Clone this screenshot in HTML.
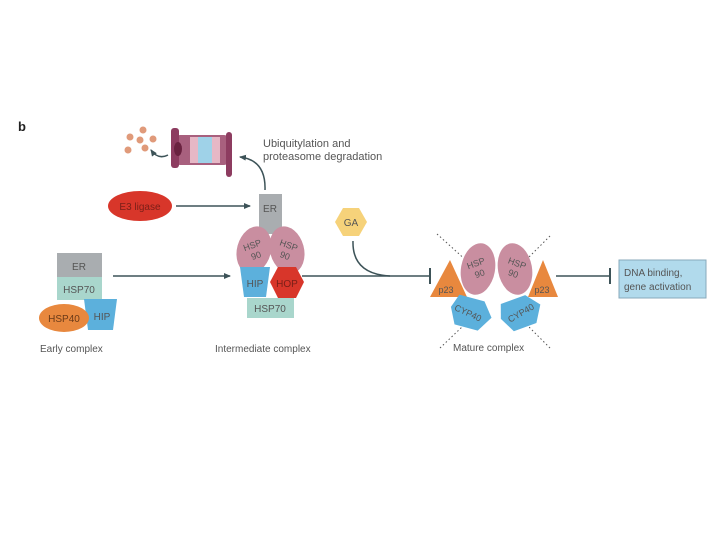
<!DOCTYPE html>
<html><head><meta charset="utf-8"><style>
html,body{margin:0;padding:0;background:#fff;}
svg{display:block;}
text{font-family:"Liberation Sans",sans-serif;fill:#555;}
</style></head><body>
<svg width="720" height="540" viewBox="0 0 720 540" xmlns="http://www.w3.org/2000/svg">
<defs>
<marker id="ah" markerWidth="8" markerHeight="8" refX="6" refY="4" orient="auto" markerUnits="userSpaceOnUse"><path d="M0,1 L7,4 L0,7 Z" fill="#3d5358"/></marker>
</defs>
<text x="18" y="131" font-size="13" font-weight="bold" style="fill:#222">b</text>

<!-- proteasome -->
<g>
<circle cx="143" cy="130" r="3.5" fill="#e09a7a"/><circle cx="130" cy="137" r="3.5" fill="#e09a7a"/>
<circle cx="140" cy="140" r="3.5" fill="#e09a7a"/><circle cx="153" cy="139" r="3.5" fill="#e09a7a"/>
<circle cx="128" cy="150" r="3.5" fill="#e09a7a"/><circle cx="145" cy="148" r="3.5" fill="#e09a7a"/>
<path d="M168,155 Q158,160 151,150" fill="none" stroke="#3d5358" stroke-width="1.5" marker-end="url(#ah)"/>
<rect x="176" y="135" width="52" height="30" fill="#a8607e" rx="4"/>
<rect x="190" y="137" width="8" height="26" fill="#e6b8c6"/>
<rect x="198" y="137" width="14" height="26" fill="#9fd2e8"/>
<rect x="212" y="137" width="8" height="26" fill="#e6b8c6"/>
<rect x="171" y="128" width="8" height="40" fill="#8d3c60" rx="3"/>
<ellipse cx="178" cy="149" rx="4" ry="7" fill="#6a2240"/>
<rect x="226" y="132" width="6" height="45" fill="#8d3c60" rx="3"/>
</g>
<path d="M265,190 Q266,160 240,157" fill="none" stroke="#3d5358" stroke-width="1.5" marker-end="url(#ah)"/>
<text x="263" y="147" font-size="11">Ubiquitylation and</text>
<text x="263" y="160" font-size="11">proteasome degradation</text>

<!-- E3 ligase -->
<ellipse cx="140" cy="206" rx="32" ry="15" fill="#d8362a"/>
<text x="140" y="210" font-size="10" text-anchor="middle" style="fill:#7a1f18">E3 ligase</text>
<line x1="176" y1="206" x2="250" y2="206" stroke="#3d5358" stroke-width="1.5" marker-end="url(#ah)"/>

<!-- Early complex -->
<rect x="57" y="253" width="45" height="24" fill="#a9adb0"/>
<text x="79" y="270" font-size="10" text-anchor="middle">ER</text>
<rect x="57" y="277" width="45" height="23" fill="#a9d6cc"/>
<text x="79" y="293" font-size="10" text-anchor="middle">HSP70</text>
<polygon points="84,299 117,299 113,330 88,330" fill="#5cb0dc"/>
<text x="102" y="320" font-size="10" text-anchor="middle">HIP</text>
<ellipse cx="64" cy="318" rx="25" ry="14" fill="#e8883e"/>
<text x="64" y="322" font-size="10" text-anchor="middle" style="fill:#6a3a18">HSP40</text>
<text x="40" y="352" font-size="10">Early complex</text>

<line x1="113" y1="276" x2="230" y2="276" stroke="#3d5358" stroke-width="1.5" marker-end="url(#ah)"/>

<!-- Intermediate -->
<rect x="259" y="194" width="23" height="40" fill="#a9adb0"/>
<text x="270" y="212" font-size="10" text-anchor="middle">ER</text>
<ellipse cx="254" cy="250" rx="17" ry="24" fill="#c98ea0" transform="rotate(15 254 250)"/>
<ellipse cx="287" cy="250" rx="17" ry="24" fill="#c98ea0" transform="rotate(-15 287 250)"/>
<text x="254" y="248" font-size="9" text-anchor="middle" transform="rotate(-20 254 250)">HSP</text>
<text x="254" y="259" font-size="9" text-anchor="middle" transform="rotate(-20 254 250)">90</text>
<text x="287" y="248" font-size="9" text-anchor="middle" transform="rotate(20 287 250)">HSP</text>
<text x="287" y="259" font-size="9" text-anchor="middle" transform="rotate(20 287 250)">90</text>
<polygon points="240,267 270,267 266,297 244,297" fill="#5cb0dc"/>
<text x="255" y="287" font-size="10" text-anchor="middle">HIP</text>
<polygon points="278,267 296,267 304,282 296,298 278,298 270,282" fill="#d8362a"/>
<text x="287" y="287" font-size="10" text-anchor="middle" style="fill:#7a1f18">HOP</text>
<rect x="247" y="298" width="47" height="20" fill="#a9d6cc"/>
<text x="270" y="312" font-size="10" text-anchor="middle">HSP70</text>
<text x="215" y="352" font-size="10">Intermediate complex</text>

<!-- GA -->
<polygon points="343,208 359,208 367,222 359,236 343,236 335,222" fill="#f6d27a"/>
<text x="351" y="226" font-size="10" text-anchor="middle">GA</text>
<path d="M353,241 Q352,274 390,276" fill="none" stroke="#3d5358" stroke-width="1.5"/>
<line x1="302" y1="276" x2="430" y2="276" stroke="#3d5358" stroke-width="1.5"/>
<line x1="430" y1="268" x2="430" y2="284" stroke="#3d5358" stroke-width="2"/>

<!-- Mature -->
<g stroke="#555" stroke-width="1" stroke-dasharray="1.5,2.5">
<line x1="437" y1="234" x2="468" y2="262"/><line x1="550" y1="236" x2="524" y2="262"/>
<line x1="440" y1="348" x2="462" y2="327"/><line x1="550" y1="348" x2="528" y2="326"/>
</g>
<polygon points="430,297 450,260 467,297" fill="#e8883e"/>
<polygon points="528,297 543,260 558,297" fill="#e8883e"/>
<text x="446" y="293" font-size="9" text-anchor="middle">p23</text>
<text x="542" y="293" font-size="9" text-anchor="middle">p23</text>
<polygon points="455,298 481,298 492,312 482,328 458,328 450,312" fill="#5cb0dc" transform="rotate(15 470 313)"/>
<polygon points="505,298 531,298 542,312 532,328 508,328 500,312" fill="#5cb0dc" transform="rotate(-20 520 313)"/>
<text x="468" y="316" font-size="9" text-anchor="middle" transform="rotate(25 468 313)">CYP40</text>
<text x="521" y="316" font-size="9" text-anchor="middle" transform="rotate(-30 521 313)">CYP40</text>
<ellipse cx="478" cy="269" rx="17" ry="26" fill="#c98ea0" transform="rotate(10 478 269)"/>
<ellipse cx="515" cy="269" rx="17" ry="26" fill="#c98ea0" transform="rotate(-10 515 269)"/>
<text x="478" y="266" font-size="9" text-anchor="middle" transform="rotate(-20 478 269)">HSP</text>
<text x="478" y="277" font-size="9" text-anchor="middle" transform="rotate(-20 478 269)">90</text>
<text x="515" y="266" font-size="9" text-anchor="middle" transform="rotate(20 515 269)">HSP</text>
<text x="515" y="277" font-size="9" text-anchor="middle" transform="rotate(20 515 269)">90</text>
<text x="453" y="351" font-size="10">Mature complex</text>

<line x1="556" y1="276" x2="610" y2="276" stroke="#3d5358" stroke-width="1.5"/>
<line x1="610" y1="268" x2="610" y2="284" stroke="#3d5358" stroke-width="2"/>
<rect x="619" y="260" width="87" height="38" fill="#b1daec" stroke="#8ab" stroke-width="1"/>
<text x="624" y="276" font-size="10">DNA binding,</text>
<text x="624" y="290" font-size="10">gene activation</text>
</svg>
</body></html>
